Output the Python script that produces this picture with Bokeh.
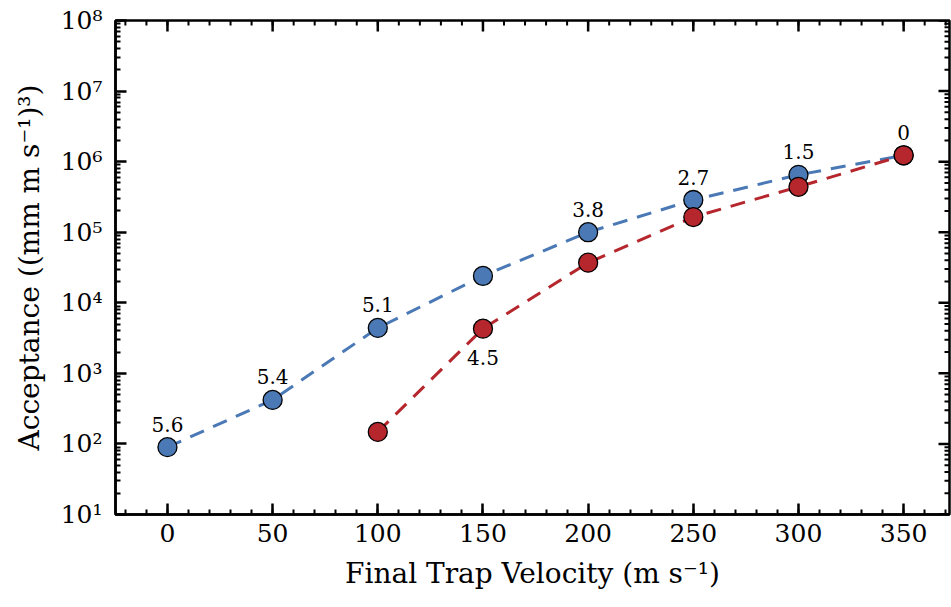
from bokeh.plotting import figure
from bokeh.models import FixedTicker, ColumnDataSource
from bokeh.core.properties import value
from bokeh.embed import file_html
from bokeh.resources import INLINE

# ---- data ----
blue_velocity = [0, 50, 100, 150, 200, 250, 300, 350]
blue_acceptance = [90, 420, 4400, 24000, 1.0e5, 2.86e5, 6.5e5, 1.23e6]
red_velocity = [100, 150, 200, 250, 300, 350]
red_acceptance = [148, 4300, 3.7e4, 1.64e5, 4.4e5, 1.23e6]

blue_label_velocity = [0, 50, 100, 200, 250, 300, 350]
blue_label_acceptance = [90, 420, 4400, 1.0e5, 2.86e5, 6.5e5, 1.23e6]
blue_label_text = ["5.6", "5.4", "5.1", "3.8", "2.7", "1.5", "0"]
red_label_velocity = [150]
red_label_acceptance = [4300]
red_label_text = ["4.5"]

x_ticks = [0, 50, 100, 150, 200, 250, 300, 350]
x_minor_ticks = list(range(-20, 371, 10))
y_exponents = [1, 2, 3, 4, 5, 6, 7, 8]

X_START, X_END = -24.7, 371.8
Y_START, Y_END = 10, 1e8

SUP = {"0": "\u2070", "1": "\u00b9", "2": "\u00b2", "3": "\u00b3", "4": "\u2074",
       "5": "\u2075", "6": "\u2076", "7": "\u2077", "8": "\u2078", "9": "\u2079"}

y_major = [10.0 ** e for e in y_exponents]
y_minor = [m * 10.0 ** e for e in y_exponents[:-1] for m in range(2, 10)]
y_overrides = {10 ** e: "10" + SUP[str(e)] for e in y_exponents}

FONT = "DejaVu Serif"
BLUE = "#4a79b6"
RED = "#b5272d"
MAJ, MIN = 11, 5

p = figure(width=951, height=607, x_range=(X_START, X_END), y_range=(Y_START, Y_END),
           y_axis_type="log", output_backend="svg", toolbar_location=None,
           min_border_left=115, min_border_top=20, min_border_right=2,
           min_border_bottom=93)
p.outline_line_color = "black"
p.outline_line_width = 2.5
p.xgrid.visible = False
p.ygrid.visible = False

p.xaxis.ticker = FixedTicker(ticks=x_ticks, minor_ticks=x_minor_ticks)
p.yaxis.ticker = FixedTicker(ticks=y_major, minor_ticks=y_minor)

for ax in p.xaxis + p.yaxis:
    ax.axis_line_width = 2.5
    ax.axis_line_color = "black"
    ax.major_tick_in = MAJ
    ax.major_tick_out = 0
    ax.minor_tick_in = MIN
    ax.minor_tick_out = 0
    ax.major_tick_line_width = 2.5
    ax.minor_tick_line_width = 2
    ax.major_tick_line_color = "black"
    ax.minor_tick_line_color = "black"
    ax.major_label_text_font = FONT
    ax.major_label_text_color = "black"
    ax.major_label_text_font_size = "25px"
    ax.axis_label_text_font = FONT
    ax.axis_label_text_font_size = "28px"
    ax.axis_label_text_font_style = "normal"
    ax.axis_label_text_color = "black"

xa = p.xaxis[0]
xa.major_label_standoff = 9
xa.axis_label = "Final Trap Velocity (m s\u207b\u00b9)"
xa.axis_label_standoff = 12

ya = p.yaxis[0]
ya.major_label_overrides = y_overrides
ya.major_label_standoff = 13
ya.axis_label = "Acceptance ((mm m s\u207b\u00b9)\u00b3)"
ya.axis_label_standoff = 12

# mirrored ticks on the top and right edges of the frame
p.ray(x=x_ticks, y=[Y_END] * len(x_ticks), length=MAJ, length_units="screen",
      angle=-90, angle_units="deg", line_color="black", line_width=2.5)
p.ray(x=x_minor_ticks, y=[Y_END] * len(x_minor_ticks), length=MIN, length_units="screen",
      angle=-90, angle_units="deg", line_color="black", line_width=2)
p.ray(x=[X_END] * len(y_major), y=y_major, length=MAJ, length_units="screen",
      angle=180, angle_units="deg", line_color="black", line_width=2.5)
p.ray(x=[X_END] * len(y_minor), y=y_minor, length=MIN, length_units="screen",
      angle=180, angle_units="deg", line_color="black", line_width=2)

blue_src = ColumnDataSource(dict(x=blue_velocity, y=blue_acceptance))
red_src = ColumnDataSource(dict(x=red_velocity, y=red_acceptance))

p.line("x", "y", source=blue_src, line_color=BLUE, line_width=3, line_dash="15 10")
p.scatter("x", "y", source=blue_src, size=19, fill_color=BLUE, line_color="black", line_width=1.3)
p.line("x", "y", source=red_src, line_color=RED, line_width=3, line_dash="15 10")
p.scatter("x", "y", source=red_src, size=19, fill_color=RED, line_color="black", line_width=1.3)

p.text(x=blue_label_velocity, y=blue_label_acceptance, text=blue_label_text,
       y_offset=-23, text_align="center", text_baseline="middle",
       text_font=value(FONT), text_font_size="20px", text_color="black")
p.text(x=red_label_velocity, y=red_label_acceptance, text=red_label_text,
       y_offset=29, text_align="center", text_baseline="middle",
       text_font=value(FONT), text_font_size="20px", text_color="black")

open("out.html", "w").write(file_html(p, INLINE))
